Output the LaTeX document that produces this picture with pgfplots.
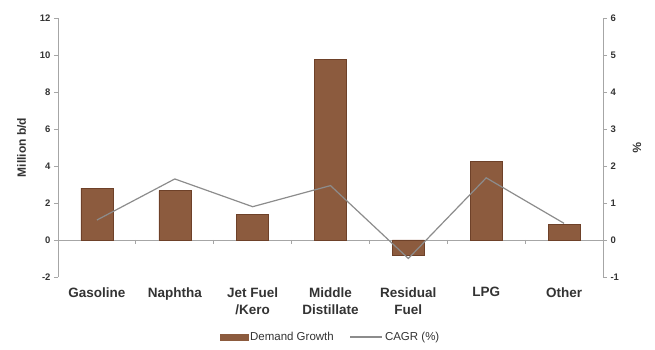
\documentclass[border=0pt]{standalone}
\usepackage{pgfplots}
\pgfplotsset{compat=1.18}
\usepackage{fontspec}
\setmainfont{Liberation Sans}

\definecolor{barbrown}{HTML}{8C5B3E}
\definecolor{baredge}{HTML}{6E4129}
\definecolor{cagr}{HTML}{8C8C8C}
\definecolor{axisgray}{HTML}{A6A6A6}
\definecolor{txt}{HTML}{333333}

\begin{document}
\begin{tikzpicture}
\useasboundingbox (0,0) rectangle (655pt,350pt);

% Demand growth (left axis, million b/d)
\begin{axis}[
  at={(58pt,73pt)}, anchor=south west, scale only axis,
  width=545pt, height=259pt,
  xmin=-0.5, xmax=6.5, ymin=-2, ymax=12,
  axis x line*=bottom, axis y line*=left,
  x axis line style={draw=none},
  xtick={0,...,6},
  xticklabels={Gasoline, Naphtha, {Jet Fuel\\/Kero}, {Middle\\Distillate}, {Residual\\Fuel}, LPG, Other},
  x tick label style={font=\bfseries\fontsize{13.5}{17}\selectfont, align=center, text=txt, anchor=north, yshift=-3pt},
  major x tick style={draw=none},
  ytick={-2,0,...,12},
  y axis line style={axisgray, line width=0.8pt},
  y tick style={axisgray, line width=0.8pt},
  tick align=outside, major tick length=4pt,
  /pgf/number format/assume math mode=true,
  y tick label style={font=\bfseries\fontsize{9.5}{10}\selectfont, text=txt},
  ylabel={Million b/d},
  ylabel style={font=\bfseries\fontsize{12}{14}\selectfont, text=txt, yshift=7pt},
  clip=false,
]
\draw[axisgray, line width=0.8pt] (axis cs:-0.5,0) -- (axis cs:6.5,0);
\pgfplotsinvokeforeach{0.5,1.5,2.5,3.5,4.5,5.5}{
  \draw[axisgray, line width=0.8pt] (axis cs:#1,0) -- ++(0pt,-4pt);
}
\addplot[ybar, bar width=32pt, fill=barbrown, draw=baredge] coordinates {
  (0,2.80) (1,2.67) (2,1.39) (3,9.77) (4,-0.81) (5,4.27) (6,0.86)
};
\end{axis}

% CAGR (right axis, %)
\begin{axis}[
  at={(58pt,73pt)}, anchor=south west, scale only axis,
  width=545pt, height=259pt,
  xmin=-0.5, xmax=6.5, ymin=-1, ymax=6,
  axis x line=none, axis y line*=right,
  ytick={-1,0,...,6},
  y axis line style={axisgray, line width=0.8pt},
  y tick style={axisgray, line width=0.8pt},
  tick align=outside, major tick length=4pt,
  /pgf/number format/assume math mode=true,
  y tick label style={font=\bfseries\fontsize{9.5}{10}\selectfont, text=txt},
  ylabel={\%},
  ylabel style={font=\bfseries\fontsize{12}{14}\selectfont, text=txt, rotate=180, yshift=7pt},
  legend columns=2,
  legend style={at={(0.5,-0.232)}, anchor=center, draw=none, fill=none,
    font=\fontsize{11.5}{13}\selectfont, text=txt,
    /tikz/every even column/.append style={column sep=14pt}},
]
\addlegendimage{legend image code/.code={
  \fill[barbrown] (0pt,-3pt) rectangle (28pt,3pt);}}
\addlegendentry{Demand Growth}
\addplot[cagr, line width=1.2pt, mark=none,
  legend image code/.code={\draw[cagr, line width=1.2pt] (0pt,0pt) -- (32pt,0pt);}]
  coordinates {
  (0,0.54) (1,1.65) (2,0.90) (3,1.47) (4,-0.50) (5,1.68) (6,0.45)
};
\addlegendentry{CAGR (\%)}
\end{axis}
\end{tikzpicture}
\end{document}
